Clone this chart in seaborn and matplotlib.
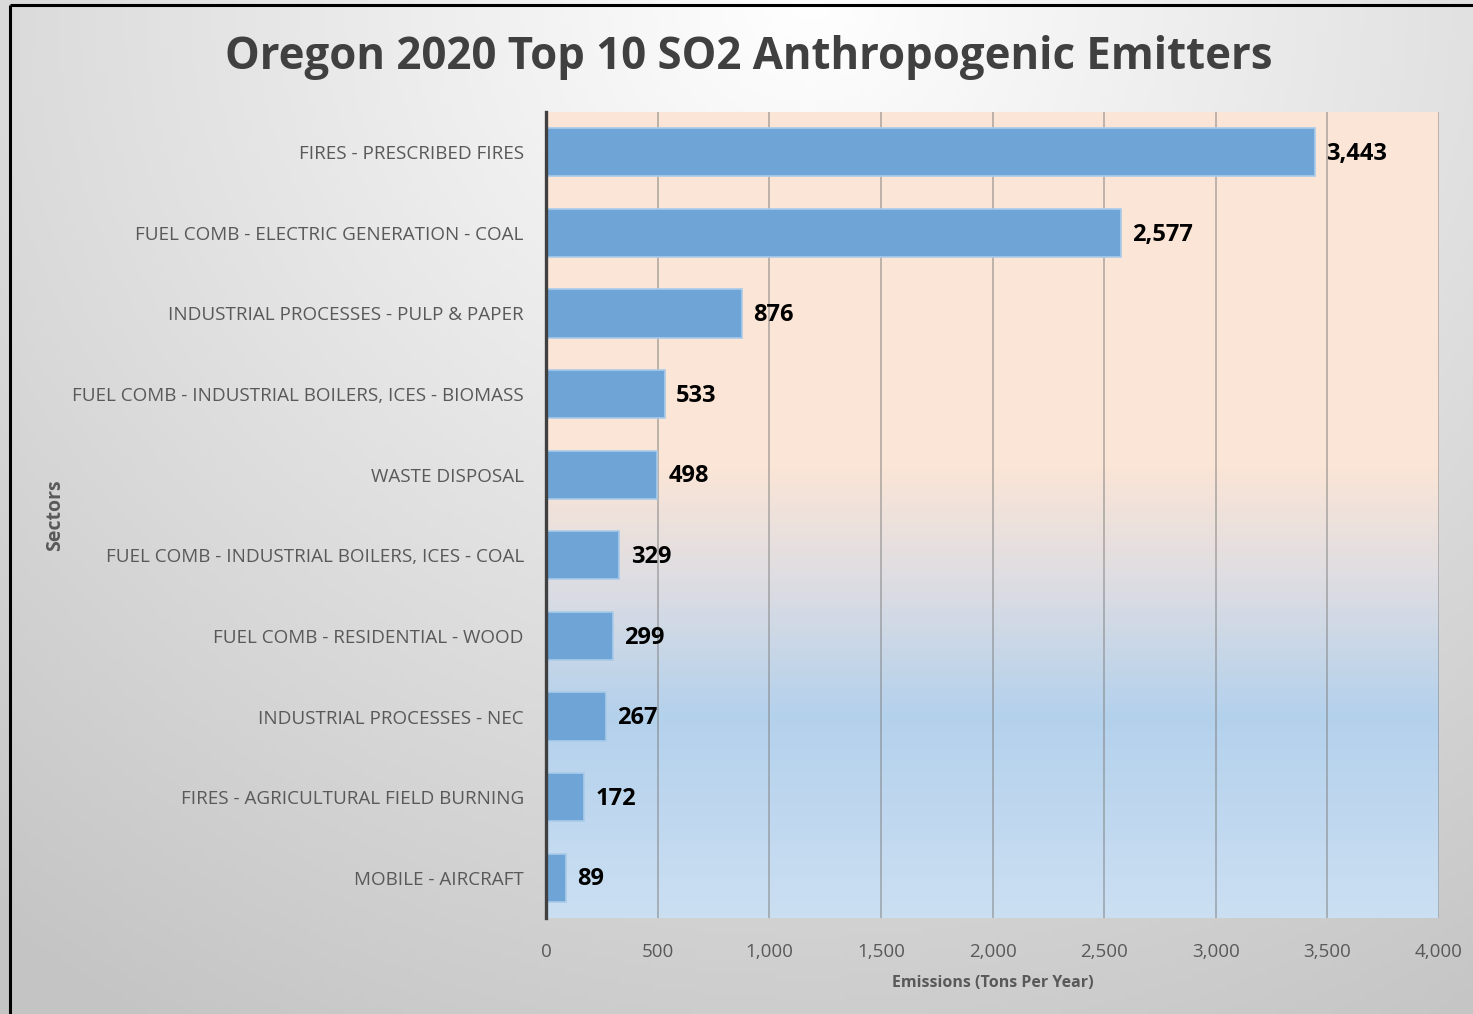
import numpy as np
import pandas as pd
import matplotlib.pyplot as plt
import seaborn as sns
from matplotlib.colors import LinearSegmentedColormap
from matplotlib.ticker import FuncFormatter

# Top 10 SO2 anthropogenic emitters, Oregon 2020
sectors = [
    "FIRES - PRESCRIBED FIRES",
    "FUEL COMB - ELECTRIC GENERATION - COAL",
    "INDUSTRIAL PROCESSES - PULP & PAPER",
    "FUEL COMB - INDUSTRIAL BOILERS, ICES - BIOMASS",
    "WASTE DISPOSAL",
    "FUEL COMB - INDUSTRIAL BOILERS, ICES - COAL",
    "FUEL COMB - RESIDENTIAL - WOOD",
    "INDUSTRIAL PROCESSES - NEC",
    "FIRES - AGRICULTURAL FIELD BURNING",
    "MOBILE - AIRCRAFT",
]
emissions = [3443, 2577, 876, 533, 498, 329, 299, 267, 172, 89]
x_ticks = [0, 500, 1000, 1500, 2000, 2500, 3000, 3500, 4000]

df = pd.DataFrame({"Sector": sectors, "Emissions": emissions})

sns.set_theme(style="white")
plt.rcParams['font.family'] = ['Open Sans', 'DejaVu Sans']

W, H = 1473, 1014
fig = plt.figure(figsize=(W / 100, H / 100), dpi=100)

# figure background: light grey gradient, white near the top centre
bg = fig.add_axes([0, 0, 1, 1], zorder=-10)
yy, xx = np.mgrid[0:1:200j, 0:1:300j]
d = np.sqrt(((xx - 0.55) * 1.0) ** 2 + ((yy - 0.0) * 0.75) ** 2)
shade = np.clip(1.0 - 0.26 * d, 0.77, 1.0)
bg.imshow(np.dstack([shade] * 3), aspect='auto', extent=[0, 1, 0, 1], origin='upper')
bg.set_xlim(0, 1)
bg.set_ylim(0, 1)
bg.axis('off')
# black frame on left and top edges
bg.plot([0.0068, 0.0068], [0, 0.9955], color='black', lw=2.2, solid_capstyle='butt')
bg.plot([0.0068, 1.0], [0.9955, 0.9955], color='black', lw=2.2, solid_capstyle='butt')

left, right = 546 / W, 1439 / W
top, bottom = 112 / H, 918 / H
ax = fig.add_axes([left, 1 - bottom, right - left, bottom - top])

# plot area gradient: peach at the top fading to light blue at the bottom
grad_cmap = LinearSegmentedColormap.from_list(
    'area', [(0.0, '#FBE5D6'), (0.44, '#FBE5D6'), (0.58, '#DEDDE2'),
             (0.75, '#B4D1EC'), (1.0, '#CBDFF2')])
ax.imshow(np.linspace(0, 1, 256).reshape(-1, 1), cmap=grad_cmap, aspect='auto',
          extent=[0, 4000, 9.5, -0.5], zorder=0)

sns.barplot(data=df, x="Emissions", y="Sector", orient='h', color='#6FA5D6',
            saturation=1, width=0.6, edgecolor='#A9CBEA', linewidth=1.2,
            ax=ax, zorder=3)

ax.set_xlim(0, 4000)
ax.set_ylim(9.5, -0.5)
ax.set_xticks(x_ticks)
ax.xaxis.set_major_formatter(FuncFormatter(lambda v, p: f"{int(v):,}"))
for xv in x_ticks[1:]:
    ax.axvline(xv, color='#7F7F7F', lw=1.4, alpha=0.5, zorder=1)

for s in ['top', 'right', 'bottom']:
    ax.spines[s].set_visible(False)
ax.spines['left'].set_color('#404040')
ax.spines['left'].set_linewidth(2.4)
ax.spines['left'].set_zorder(5)

ax.tick_params(axis='x', length=0, labelsize=13.5, labelcolor='#595959', pad=18)
ax.tick_params(axis='y', length=0, labelsize=13.6, labelcolor='#595959', pad=16)

for i, v in enumerate(emissions):
    ax.text(v + 50, i + 0.02, f"{v:,}", va='center', ha='left', fontsize=17,
            fontweight='bold', color='black', zorder=6)

ax.set_xlabel("Emissions (Tons Per Year)", fontsize=11.5, fontweight='bold',
              color='#595959', labelpad=10)
ax.set_ylabel("")
fig.text(55 / W, 1 - 515 / H, "Sectors", rotation=90, ha='center', va='center',
         fontsize=14, fontweight='bold', color='#595959')

fig.text(749 / W, 1 - 58 / H, "Oregon 2020 Top 10 SO2 Anthropogenic Emitters",
         ha='center', va='center', fontsize=31.5, fontweight='bold', color='#404040')

fig.savefig('out.png', dpi=100)
